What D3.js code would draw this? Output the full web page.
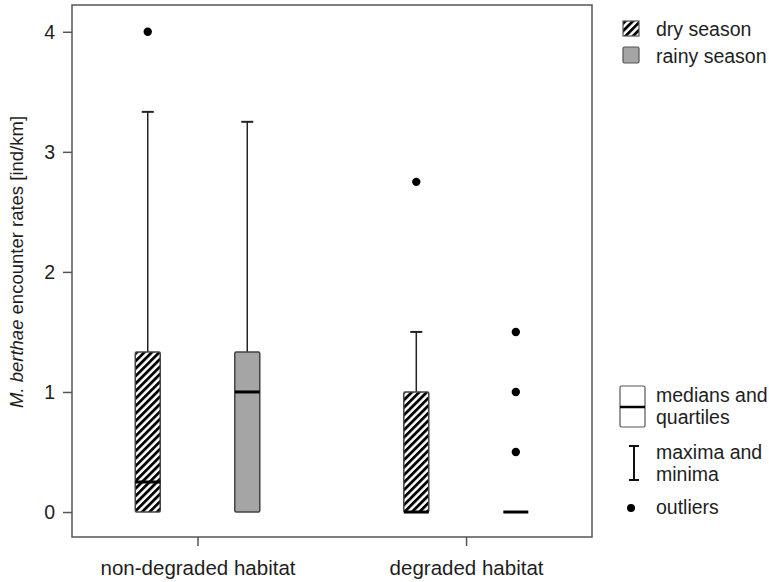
<!DOCTYPE html>
<html><head><meta charset="utf-8">
<script src="https://cdn.jsdelivr.net/npm/d3@7"></script>
<style>body{margin:0;background:#fff}svg{display:block;font-family:"Liberation Sans",Arial,sans-serif}</style>
</head><body>
<svg id="c" width="769" height="582"></svg>
<script>
const habitats = ["non-degraded habitat", "degraded habitat"];
const seasons = ["dry season", "rainy season"];
// per box: [habitat, season]
const boxHabitat = [0, 0, 1, 1];
const boxSeason = [0, 1, 0, 1];
const whiskerLow = [0, 0, 0, 0];
const q1 = [0, 0, 0, 0];
const medians = [0.25, 1.0, 0, 0];
const q3 = [1.333, 1.333, 1.0, 0];
const whiskerHigh = [3.333, 3.25, 1.5, 0];
const outliers = [[4], [], [2.75], [0.5, 1.0, 1.5]];
const yTicks = [0, 1, 2, 3, 4];

const svg = d3.select("#c");
const L = 72, R = 592, T = 5, B = 537;
const y = d3.scaleLinear().domain([-0.208, 4.223]).range([B, T]);
const x = d3.scaleLinear().domain([0.5326, 2.469]).range([L, R]);
const off = 0.1853, bw = 25;
const textCol = "#1e1e1e", lineCol = "#555";

const defs = svg.append("defs");
const pat = defs.append("pattern").attr("id", "hatch").attr("patternUnits", "userSpaceOnUse")
  .attr("width", 5.3).attr("height", 10).attr("patternTransform", "rotate(45)");
pat.append("rect").attr("width", 5.3).attr("height", 10).attr("fill", "#fff");
pat.append("rect").attr("width", 2.8).attr("height", 10).attr("fill", "#000");

const fills = ["url(#hatch)", "#a5a5a5"];

// frame
svg.append("rect").attr("x", L).attr("y", T).attr("width", R - L).attr("height", B - T)
  .attr("fill", "none").attr("stroke", lineCol).attr("stroke-width", 1.5);

// y axis
const yAxis = svg.append("g").attr("transform", `translate(${L},0)`)
  .call(d3.axisLeft(y).tickValues(yTicks).tickSize(9).tickPadding(8).tickFormat(d3.format("d")));
yAxis.select(".domain").remove();
yAxis.selectAll(".tick line").attr("stroke", lineCol).attr("stroke-width", 1.5);
yAxis.selectAll("text").attr("font-size", 19.5).attr("fill", textCol).attr("font-family", "Liberation Sans, Arial, sans-serif");

// x axis
const xAxis = svg.append("g").attr("transform", `translate(0,${B})`)
  .call(d3.axisBottom(x).tickValues([1, 2]).tickSize(9).tickPadding(14).tickFormat(d => habitats[d - 1]));
xAxis.select(".domain").remove();
xAxis.selectAll(".tick line").attr("stroke", lineCol).attr("stroke-width", 1.5);
xAxis.selectAll("text").attr("font-size", 20.5).attr("fill", textCol).attr("font-family", "Liberation Sans, Arial, sans-serif");

// y title
const yt = svg.append("text").attr("transform", `translate(23,262) rotate(-90)`)
  .attr("text-anchor", "middle").attr("font-size", 18.5).attr("fill", textCol);
yt.append("tspan").attr("font-style", "italic").text("M. berthae");
yt.append("tspan").text(" encounter rates [ind/km]");

// boxes
boxHabitat.forEach((h, i) => {
  const cx = x(h + 1 + (boxSeason[i] === 0 ? -off : off));
  const g = svg.append("g");
  if (whiskerHigh[i] > q3[i]) {
    g.append("line").attr("x1", cx).attr("x2", cx).attr("y1", y(q3[i])).attr("y2", y(whiskerHigh[i]))
      .attr("stroke", "#222").attr("stroke-width", 1.5);
    g.append("line").attr("x1", cx - 6).attr("x2", cx + 6).attr("y1", y(whiskerHigh[i])).attr("y2", y(whiskerHigh[i]))
      .attr("stroke", "#222").attr("stroke-width", 2);
  }
  if (q3[i] > q1[i]) {
    g.append("rect").attr("x", cx - bw / 2).attr("y", y(q3[i])).attr("width", bw)
      .attr("height", y(q1[i]) - y(q3[i])).attr("rx", 1.5)
      .attr("fill", fills[boxSeason[i]]).attr("stroke", "#444").attr("stroke-width", 1.5);
  }
  g.append("line").attr("x1", cx - bw / 2).attr("x2", cx + bw / 2).attr("y1", y(medians[i])).attr("y2", y(medians[i]))
    .attr("stroke", "#000").attr("stroke-width", 3);
  outliers[i].forEach(v => {
    g.append("circle").attr("cx", cx).attr("cy", y(v)).attr("r", 4.2).attr("fill", "#000");
  });
});

// legend
const lx = 623;
svg.append("rect").attr("x", lx).attr("y", 21).attr("width", 16).attr("height", 15)
  .attr("fill", "url(#hatch)").attr("stroke", "#555").attr("stroke-width", 1.2);
svg.append("rect").attr("x", lx).attr("y", 47).attr("width", 16).attr("height", 16)
  .attr("fill", "#a5a5a5").attr("stroke", "#555").attr("stroke-width", 1.2).attr("rx", 1.5);
const legText = (t, yy) => svg.append("text").attr("x", 656).attr("y", yy).attr("font-size", 19.5)
  .attr("fill", textCol).attr("dominant-baseline", "central").text(t);
legText(seasons[0], 29);
legText(seasons[1], 56);

// box key
svg.append("rect").attr("x", 620).attr("y", 386).attr("width", 25).attr("height", 41).attr("rx", 1.5)
  .attr("fill", "#fff").attr("stroke", "#555").attr("stroke-width", 1.2);
svg.append("line").attr("x1", 620).attr("x2", 645).attr("y1", 407).attr("y2", 407).attr("stroke", "#000").attr("stroke-width", 2.5);
legText("medians and", 395);
legText("quartiles", 417);
svg.append("line").attr("x1", 634).attr("x2", 634).attr("y1", 446).attr("y2", 480).attr("stroke", "#111").attr("stroke-width", 2);
svg.append("line").attr("x1", 629).attr("x2", 639).attr("y1", 446).attr("y2", 446).attr("stroke", "#111").attr("stroke-width", 2);
svg.append("line").attr("x1", 629).attr("x2", 639).attr("y1", 480).attr("y2", 480).attr("stroke", "#111").attr("stroke-width", 2);
legText("maxima and", 452);
legText("minima", 474);
svg.append("circle").attr("cx", 631).attr("cy", 508).attr("r", 4).attr("fill", "#000");
legText("outliers", 507);
</script>
</body></html>
